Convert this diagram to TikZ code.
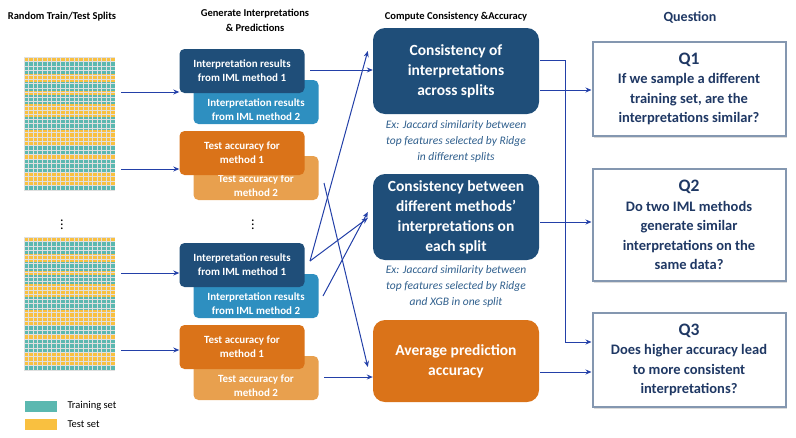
\documentclass[tikz,border=0pt]{standalone}
\usepackage{fontspec}
\setmainfont{Carlito}
\usetikzlibrary{arrows.meta,shadows}
\definecolor{dblue}{HTML}{1F4E79}
\definecolor{lblue}{HTML}{2E8FC0}
\definecolor{dorange}{HTML}{DA7319}
\definecolor{lorange}{HTML}{E8A04E}
\definecolor{navy}{HTML}{1F3864}
\definecolor{arr}{HTML}{2340A8}
\definecolor{teal}{HTML}{5BB8B0}
\definecolor{yel}{HTML}{F9C040}
\definecolor{capt}{HTML}{2E5E8C}
\definecolor{qborder}{HTML}{8497B0}
\tikzset{
 sbox/.style={rounded corners=5pt,text=white,font=\fontsize{11}{14}\selectfont\bfseries,align=center,minimum width=125pt,minimum height=44pt,inner sep=2pt},
 stxt/.style={text=white,font=\fontsize{11}{14}\selectfont\bfseries,align=center,inner sep=0pt},
 bbox/.style={rounded corners=12pt,fill=dblue,text=white,font=\fontsize{15.5}{20}\selectfont\bfseries,align=center,minimum width=166pt,minimum height=86pt},
 qbox/.style={draw=qborder,line width=2pt,fill=white,text=navy,font=\fontsize{14.5}{19.5}\selectfont\bfseries,align=center,minimum width=193pt,drop shadow={opacity=0.35,fill=black!40,shadow xshift=1.5pt,shadow yshift=-1.5pt}},
 hdr/.style={font=\fontsize{10.5}{15}\selectfont\bfseries,align=center},
 captxt/.style={text=capt,font=\fontsize{11.5}{16}\selectfont\itshape,align=center},
 con/.style={draw=arr,line width=1pt,-{Stealth[length=6pt,width=5pt]}},
 ln/.style={draw=arr,line width=1pt},
 vd/.style={font=\fontsize{14}{14}\selectfont,inner sep=0pt},
}
\newcommand{\mygrid}[1]{%
 \begin{scope}[shift={(0,#1)}]
 \fill[teal] (24,0) rectangle (115,133);
 \foreach \a/\b in {0/4,17/25,34/38,47/60,73/89,98/102,115/128}{\fill[yel] (24,\a) rectangle (115,\b);}
 \foreach \x in {24,28.55,...,115}{\draw[black!12,line width=0.4pt] (\x,0)--(\x,133);}
 \foreach \y in {0,4.43,...,133}{\draw[black!12,line width=0.4pt] (24,\y)--(115,\y);}
 \end{scope}}
\begin{document}
\begin{tikzpicture}[x=1pt,y=-1pt]
\useasboundingbox (0,0) rectangle (796,437);
\mygrid{57}
\mygrid{237}
\node[hdr] (h1) at (62,17) {Random Train/Test Splits};
\node[hdr] (h2) at (255,20) {Generate Interpretations\\\& Predictions};
\node[hdr] (h3) at (456,17) {Compute Consistency \&Accuracy};
\node[font=\fontsize{14}{16}\selectfont\bfseries,text=navy] (h4) at (690,17) {Question};
\node[sbox,fill=lblue] (i2a) at (256,102) {};
\node[stxt] (i2at) at (256,110) {Interpretation results\\from IML method 2};
\node[sbox,fill=dblue] (i1a) at (242,71) {Interpretation results\\from IML method 1};
\node[sbox,fill=lorange] (t2a) at (256,178) {};
\node[stxt] (t2at) at (256,186) {Test accuracy for\\method 2};
\node[sbox,fill=dorange] (t1a) at (242,153) {Test accuracy for\\method 1};
\node[vd] (vda) at (253,222) {$\vdots$};
\node[vd] (vdb) at (62,222) {$\vdots$};
\node[sbox,fill=lblue] (i2b) at (256,296) {};
\node[stxt] (i2bt) at (256,304) {Interpretation results\\from IML method 2};
\node[sbox,fill=dblue] (i1b) at (242,265) {Interpretation results\\from IML method 1};
\node[sbox,fill=lorange] (t2b) at (256,378) {};
\node[stxt] (t2bt) at (256,386) {Test accuracy for\\method 2};
\node[sbox,fill=dorange] (t1b) at (242,347) {Test accuracy for\\method 1};
\coordinate (g1) at (121,92); \coordinate (g2) at (121,169);
\coordinate (g3) at (121,273); \coordinate (g4) at (121,350);
\draw[con] (g1) -- (i1a.west|-g1);
\draw[con] (g2) -- (t1a.west|-g2);
\draw[con] (g3) -- (i1b.west|-g3);
\draw[con] (g4) -- (t1b.west|-g4);
\node[bbox] (b1) at (456,71) {Consistency of\\interpretations\\across splits};
\node[captxt] (c1) at (456,141) {Ex: Jaccard similarity between\\top features selected by Ridge\\in different splits};
\node[bbox] (b2) at (456,217) {Consistency between\\different methods'\\interpretations on\\each split};
\node[captxt] (c2) at (456,286) {Ex: Jaccard similarity between\\top features selected by Ridge\\and XGB in one split};
\node[bbox,fill=dorange,minimum height=82pt] (b3) at (456,361) {Average prediction\\accuracy};
\coordinate (p1) at (310,70); \coordinate (p2) at (310,261); \coordinate (p3) at (323,296);
\coordinate (p4) at (324,183); \coordinate (p5) at (324,377);
\draw[con] (p1) -- (b1.west|-p1);
\draw[con] (p2) -- ([xshift=-5pt,yshift=20pt]b1.west);
\draw[con] (p2) -- ([xshift=-5pt,yshift=-1pt]b2.west);
\draw[con] (p3) -- ([xshift=-5pt,yshift=5pt]b2.west);
\draw[con] (p4) -- ([xshift=-5pt,yshift=-6pt]b3.west);
\draw[con] (p5) -- (b3.west|-p5);
\node[qbox,minimum height=94pt] (q1) at (689,89) {\fontsize{17.5}{20}\selectfont Q1\\If we sample a different\\training set, are the\\interpretations similar?};
\node[qbox,minimum height=112pt] (q2) at (689,225) {\fontsize{17.5}{20}\selectfont Q2\\Do two IML methods\\generate similar\\interpretations on the\\same data?};
\node[qbox,minimum height=94pt] (q3) at (689,360) {\fontsize{17.5}{20}\selectfont Q3\\Does higher accuracy lead\\to more consistent\\interpretations?};
\coordinate (r1) at (540,60); \coordinate (r2) at (565,60); \coordinate (r3) at (565,342);
\draw[ln] (r1) -- (r2) -- (r3);
\draw[con] (r3) -- (q3.west|-r3);
\draw[con] (540,90) -- (q1.west|-0,90);
\draw[con] (540,222) -- (q2.west|-0,222);
\draw[con] (540,372) -- (q3.west|-0,372);
\node[fill=teal,minimum width=32pt,minimum height=11pt,inner sep=0] (lt) at (41,406) {};
\node[fill=yel,minimum width=32pt,minimum height=11pt,inner sep=0] (ly) at (41,424) {};
\node[anchor=west,font=\fontsize{10.5}{12}\selectfont] (ltt) at (64,406) {Training set};
\node[anchor=west,font=\fontsize{10.5}{12}\selectfont] (lyt) at (64,424) {Test set};
\end{tikzpicture}
\end{document}
